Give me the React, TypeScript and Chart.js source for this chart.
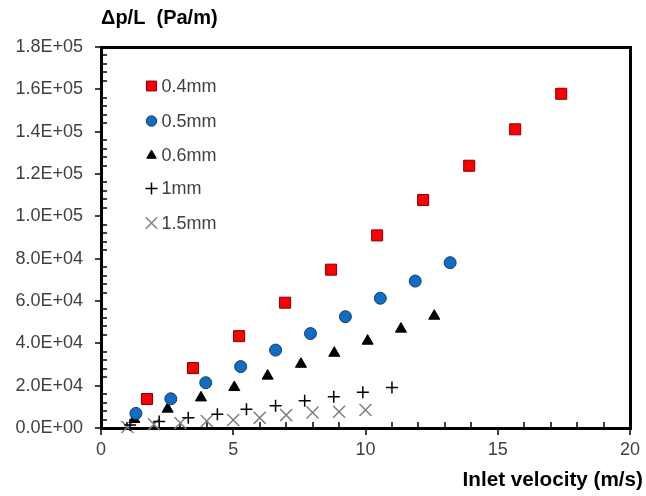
import React, { useEffect, useRef } from 'react';
import { Chart, registerables } from 'chart.js';
import { drawPoint } from 'chart.js/helpers';

Chart.register(...registerables);

const FONT = "'Liberation Sans', Arial, sans-serif";

const SERIES_NAMES = ['0.4mm', '0.5mm', '0.6mm', '1mm', '1.5mm'];

const V_04 = [1.74, 3.48, 5.22, 6.96, 8.7, 10.44, 12.18, 13.92, 15.66, 17.4];
const DP_04 = [13700, 28300, 43400, 59200, 74800, 91000, 107700, 123900, 141100, 157900];

const V_05 = [1.32, 2.64, 3.96, 5.28, 6.6, 7.92, 9.24, 10.56, 11.88, 13.2];
const DP_05 = [6900, 13800, 21400, 29000, 36800, 44600, 52600, 61300, 69400, 78100];

const V_06 = [1.26, 2.52, 3.78, 5.04, 6.3, 7.56, 8.82, 10.08, 11.34, 12.6];
const DP_06 = [4100, 9000, 14300, 19200, 24600, 30200, 35400, 41100, 46800, 52900];

const V_1 = [1.1, 2.2, 3.3, 4.4, 5.5, 6.6, 7.7, 8.8, 9.9, 11.0];
const DP_1 = [1400, 3100, 4800, 6500, 8800, 10500, 12900, 14800, 16900, 19100];

const V_15 = [1, 2, 3, 4, 5, 6, 7, 8, 9, 10];
const DP_15 = [500, 1800, 2400, 3300, 3800, 4800, 6100, 7300, 7700, 8500];

const X_MIN = 0;
const X_MAX = 20;
const X_STEP = 5;
const X_MINOR = 1;
const Y_MIN = 0;
const Y_MAX = 180000;
const Y_STEP = 20000;
const Y_MINOR = 4000;

const STYLES = [
  { pointStyle: 'rect', radius: 7.8, legendRadius: 7, bg: '#FF0000', border: '#800000', bw: 1 },
  { pointStyle: 'circle', radius: 6, legendRadius: 5.2, bg: '#0F6EC4', border: '#1F3864', bw: 1 },
  { pointStyle: 'triangle', radius: 6.4, legendRadius: 5.5, bg: '#000000', border: '#000000', bw: 1 },
  { pointStyle: 'cross', radius: 6, legendRadius: 6, bg: '#000000', border: '#000000', bw: 1.5 },
  { pointStyle: 'crossRot', radius: 8.5, legendRadius: 8, bg: '#7F7F7F', border: '#7F7F7F', bw: 1.5 },
];

function sci(v: number): string {
  if (v === 0) return '0.0E+00';
  const e = Math.floor(Math.log10(v) + 1e-9);
  const m = v / Math.pow(10, e);
  return `${m.toFixed(1)}E+${String(e).padStart(2, '0')}`;
}

const framePlugin = {
  id: 'frame',
  beforeDatasetsDraw(chart: any) {
    const { ctx, chartArea: a, scales } = chart;
    const x = scales.x;
    const y = scales.y;
    ctx.save();
    ctx.strokeStyle = '#000';
    ctx.lineWidth = 1.5;
    const line = (x1: number, y1: number, x2: number, y2: number) => {
      ctx.beginPath();
      ctx.moveTo(x1, y1);
      ctx.lineTo(x2, y2);
      ctx.stroke();
    };
    for (let v = X_MIN; v <= X_MAX + 1e-9; v += X_MINOR) {
      const px = Math.round(x.getPixelForValue(v));
      if (Math.abs(v % X_STEP) < 1e-9) line(px, a.bottom, px, a.bottom + 7);
      else line(px, a.bottom, px, a.bottom - 6);
    }
    for (let v = Y_MIN; v <= Y_MAX + 1e-9; v += Y_MINOR) {
      const py = Math.round(y.getPixelForValue(v));
      if (Math.abs(v % Y_STEP) < 1e-9) line(a.left - 6, py, a.left, py);
      else line(a.left, py, a.left + 6, py);
    }
    ctx.fillStyle = '#000';
    const L = Math.round(a.left), R = Math.round(a.right), T = Math.round(a.top), B = Math.round(a.bottom);
    ctx.fillRect(L - 1, T - 1, 3, B - T + 3);
    ctx.fillRect(R - 1, T - 1, 3, B - T + 3);
    ctx.fillRect(L - 1, T - 1, R - L + 3, 3);
    ctx.fillRect(L - 1, B - 1, R - L + 3, 3);
    ctx.restore();
  },
  afterDraw(chart: any) {
    const { ctx, chartArea: a } = chart;
    ctx.save();
    ctx.fillStyle = '#000';
    ctx.textBaseline = 'middle';
    ctx.font = `bold 20px ${FONT}`;
    ctx.textAlign = 'left';
    ctx.fillText('\u0394p/L  (Pa/m)', a.left, 18);
    ctx.font = `bold 20.7px ${FONT}`;
    ctx.textAlign = 'right';
    ctx.fillText('Inlet velocity (m/s)', 643, 480);

    // legend
    const lx = 151.5;
    const ys = [86, 121, 155.5, 188.5, 223];
    ctx.font = `18px ${FONT}`;
    ctx.textAlign = 'left';
    chart.data.datasets.forEach((ds: any, i: number) => {
      const st = STYLES[i];
      ctx.fillStyle = st.bg;
      ctx.strokeStyle = st.border;
      ctx.lineWidth = st.bw;
      drawPoint(ctx, { pointStyle: st.pointStyle, radius: st.legendRadius, rotation: 0, borderWidth: st.bw } as any, lx, ys[i]);
      ctx.fillStyle = '#404040';
      ctx.fillText(ds.label, 161.5, ys[i] + 1);
    });
    ctx.restore();
  },
};

function pts(xs: number[], ys: number[]) {
  return xs.map((v, i) => ({ x: v, y: ys[i] }));
}

export default function App() {
  const ref = useRef<HTMLCanvasElement>(null);
  useEffect(() => {
    const canvas = ref.current!;
    const seriesX = [V_04, V_05, V_06, V_1, V_15];
    const seriesY = [DP_04, DP_05, DP_06, DP_1, DP_15];
    const chart = new Chart(canvas, {
      type: 'scatter',
      data: {
        datasets: SERIES_NAMES.map((name, i) => ({
          label: name,
          data: pts(seriesX[i], seriesY[i]),
          pointStyle: STYLES[i].pointStyle as any,
          pointRadius: STYLES[i].radius,
          pointHoverRadius: STYLES[i].radius,
          backgroundColor: STYLES[i].bg,
          borderColor: STYLES[i].border,
          pointBorderWidth: STYLES[i].bw,
          borderWidth: STYLES[i].bw,
          showLine: false,
          clip: false as any,
        })),
      },
      options: {
        animation: false,
        responsive: false,
        maintainAspectRatio: false,
        devicePixelRatio: 1,
        layout: { padding: { left: 0, top: 47, right: 16, bottom: 0 } },
        plugins: {
          legend: { display: false },
          tooltip: { enabled: false },
          title: { display: false },
        },
        scales: {
          x: {
            type: 'linear',
            min: X_MIN,
            max: X_MAX,
            grid: { display: false, drawTicks: false },
            border: { display: false },
            ticks: {
              stepSize: X_STEP,
              padding: 11,
              color: '#404040',
              font: { family: FONT, size: 18 },
            },
            afterFit: (s: any) => { s.height = 68; s.paddingLeft = 0; s.paddingRight = 0; },
          },
          y: {
            type: 'linear',
            min: Y_MIN,
            max: Y_MAX,
            grid: { display: false, drawTicks: false },
            border: { display: false },
            ticks: {
              stepSize: Y_STEP,
              padding: 18,
              color: '#404040',
              font: { family: FONT, size: 18 },
              callback: (v: any) => sci(Number(v)),
            },
            afterFit: (s: any) => { s.width = 101; s.paddingTop = 0; s.paddingBottom = 0; },
          },
        },
      },
      plugins: [framePlugin],
    });
    return () => chart.destroy();
  }, []);
  return (
    <div style={{ position: 'absolute', left: 0, top: 0, width: 646, height: 496, background: '#fff' }}>
      <canvas ref={ref} width={646} height={496} style={{ width: 646, height: 496 }} />
    </div>
  );
}
